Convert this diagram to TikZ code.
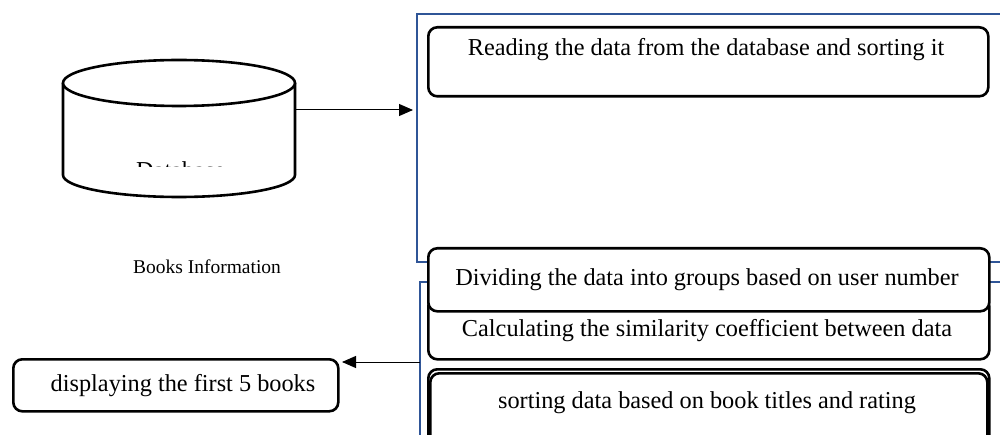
\documentclass[tikz,border=0pt]{standalone}
\usepackage{fontspec}
\setmainfont{Liberation Serif}
\usetikzlibrary{arrows.meta}
\definecolor{frameblue}{RGB}{47,85,151}
\begin{document}
\begin{tikzpicture}[x=1pt,y=-1pt,
  stagebox/.style={draw, line width=2.6pt, rounded corners=9pt, fill=white, inner sep=0pt, anchor=north west},
  lbl/.style={font=\fontsize{24.3}{29}\selectfont, inner sep=0pt},
  smalllbl/.style={font=\fontsize{19.5}{23}\selectfont, inner sep=0pt},
  frameline/.style={draw=frameblue, line width=2pt},
  cyl/.style={line width=2.6pt},
  link/.style={line width=1pt, -{Triangle[length=14pt,width=12pt]}}]
\useasboundingbox (0,0) rectangle (1000,435);
\clip (0,0) rectangle (1000,435);

% blue frames round the processing stages
\draw[frameline] (1010,14) -- (417,14) -- (417,262) -- (1010,262);
\draw[frameline] (1010,282) -- (420,282) -- (420,445);

% database cylinder
\fill[white] (63,83) rectangle (295,175);
\fill[white] (179,175) ellipse [x radius=116, y radius=22];
\draw[cyl] (63,83) -- (63,175) arc [start angle=180, end angle=0, x radius=116, y radius=22] -- (295,83);
\draw[cyl, fill=white] (179,83) ellipse [x radius=116, y radius=23];
\begin{scope}
  \clip (100,150) rectangle (260,167);
  \node[lbl, anchor=base west] (dbtxt) at (136,179) {Database};
\end{scope}
\coordinate (dbout) at (295,110);
\node[smalllbl] (info) at (207,267) {Books Information};

% stage boxes
\node[stagebox, minimum width=560pt, minimum height=69pt] (read) at (427,26) {};
\node[lbl] (readtxt) at (706,50) {Reading the data from the database and sorting it};

\node[stagebox, minimum width=561pt, minimum height=62pt] (calc) at (427,296) {};
\node[lbl] (calctxt) at (707,331) {Calculating the similarity coefficient between data};

\node[stagebox, minimum width=561pt, minimum height=63pt] (divide) at (427,247) {};
\node[lbl] (dividetxt) at (707,280) {Dividing the data into groups based on user number};

\node[stagebox, minimum width=561pt, minimum height=80pt] (sortout) at (427,368) {};
\node[stagebox, minimum width=557pt, minimum height=80pt] (sortin) at (429,372) {};
\node[lbl] (sorttxt) at (707,403) {sorting data based on book titles and rating};

% output box
\node[stagebox, minimum width=325pt, minimum height=52pt] (show) at (12,358) {};
\node[lbl] (showtxt) at (183,386) {displaying the first 5 books};

% connectors
\coordinate (f1in) at (413,110);
\coordinate (f2out) at (420,362);
\coordinate (showin) at (342,362);
\draw[link] (dbout) -- (f1in);
\draw[link] (f2out) -- (showin);
\end{tikzpicture}
\end{document}
